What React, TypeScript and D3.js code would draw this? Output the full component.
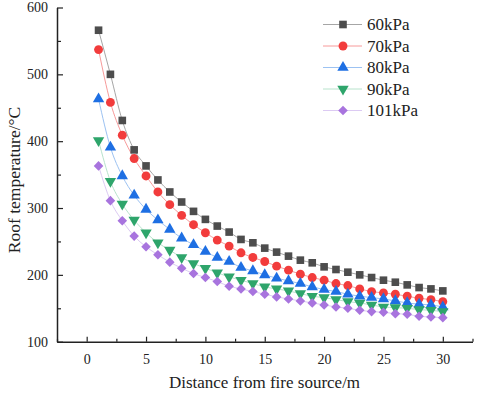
import React, { useEffect, useRef } from 'react';
import * as d3 from 'd3';

// distance from fire source (m)
const distances = d3.range(1, 31);

// roof temperature (°C)
const t60 = [566, 500, 431, 387, 363, 342, 324, 309, 295, 283, 273, 264, 253, 248, 240, 234, 228, 222, 218, 212, 208, 204, 200, 196, 192, 189, 185, 181, 179, 176];
const t70 = [537, 458, 409, 374, 348, 324, 305, 289, 275, 263, 252, 243, 233, 226, 220, 213, 207, 201, 196, 192, 187, 184, 179, 175, 173, 171, 168, 165, 163, 160];
const t80 = [463, 391, 348, 319, 298, 282, 268, 255, 245, 235, 226, 220, 211, 206, 200, 195, 191, 187, 182, 178, 175, 171, 168, 166, 164, 161, 158, 156, 155, 152];
const t90 = [401, 340, 306, 282, 263, 248, 237, 226, 217, 210, 203, 197, 192, 187, 182, 179, 176, 172, 168, 166, 163, 160, 158, 155, 152, 151, 150, 148, 147, 145];
const t101 = [363, 311, 281, 258, 242, 230, 219, 210, 202, 196, 190, 183, 179, 175, 171, 167, 164, 161, 158, 155, 152, 150, 147, 145, 144, 142, 141, 138, 137, 136];

const seriesNames = ['60kPa', '70kPa', '80kPa', '90kPa', '101kPa'];
const xTicks = [0, 5, 10, 15, 20, 25, 30];
const yTicks = [100, 200, 300, 400, 500, 600];

const App = () => {
  const svgRef = useRef<SVGSVGElement>(null);

  useEffect(() => {
    const svg = d3.select(svgRef.current);
    svg.selectAll('*').remove();

    const width = 480;
    const height = 393;
    const font = '"Liberation Serif", "Times New Roman", serif';

    const x = d3.scaleLinear().domain([-2.5, 32.5]).range([57, 472.5]);
    const y = d3.scaleLinear().domain([100, 600]).range([341.7, 7.5]);

    svg.append('rect').attr('width', width).attr('height', height).attr('fill', '#fff');

    const series = [
      { name: seriesNames[0], values: t60, color: '#4d4d4d', line: '#a6a6a6', symbol: d3.symbolSquare, size: 58, rotate: 0 },
      { name: seriesNames[1], values: t70, color: '#f23c3c', line: '#f79a9a', symbol: d3.symbolCircle, size: 62, rotate: 0 },
      { name: seriesNames[2], values: t80, color: '#1e6fe3', line: '#9cc2f2', symbol: d3.symbolTriangle, size: 56, rotate: 0 },
      { name: seriesNames[3], values: t90, color: '#2ea56b', line: '#b8e3cc', symbol: d3.symbolTriangle, size: 56, rotate: 180 },
      { name: seriesNames[4], values: t101, color: '#a874de', line: '#dccaf3', symbol: d3.symbolSquare, size: 46, rotate: 45 },
    ];

    const line = d3
      .line<number>()
      .x((d, i) => x(distances[i]))
      .y((d) => y(d))
      .curve(d3.curveMonotoneX);

    // lines first, then markers on top
    series.forEach((s) => {
      svg
        .append('path')
        .attr('d', line(s.values))
        .attr('fill', 'none')
        .attr('stroke', s.line)
        .attr('stroke-width', 1);
    });

    series.forEach((s) => {
      svg
        .append('g')
        .selectAll('path')
        .data(s.values)
        .enter()
        .append('path')
        .attr('d', d3.symbol().type(s.symbol).size(s.size)())
        .attr('transform', (d, i) => `translate(${x(distances[i])},${y(d)}) rotate(${s.rotate})`)
        .attr('fill', s.color);
    });

    // x axis (ticks pointing inward)
    const xAxis = svg.append('g').attr('transform', `translate(0,${y(100)})`);
    xAxis.call(d3.axisBottom(x).tickValues(xTicks).tickSizeInner(-5).tickSizeOuter(0).tickPadding(12));
    svg
      .append('g')
      .attr('transform', `translate(0,${y(100)})`)
      .call(d3.axisBottom(x).tickValues([-2.5, 2.5, 7.5, 12.5, 17.5, 22.5, 27.5, 32.5]).tickSize(-3).tickFormat(() => ''))
      .select('.domain')
      .remove();

    // y axis
    const yAxis = svg.append('g').attr('transform', `translate(${x(-2.5)},0)`);
    yAxis.call(d3.axisLeft(y).tickValues(yTicks).tickSizeInner(-6).tickSizeOuter(0).tickPadding(9));
    svg
      .append('g')
      .attr('transform', `translate(${x(-2.5)},0)`)
      .call(d3.axisLeft(y).tickValues([150, 250, 350, 450, 550]).tickSize(-4).tickFormat(() => ''))
      .select('.domain')
      .remove();

    svg.selectAll('.domain').attr('stroke', '#222').attr('stroke-width', 1.5);
    svg.selectAll('.tick line').attr('stroke', '#222').attr('stroke-width', 1.2);
    svg.selectAll('.tick text').attr('font-family', font).attr('font-size', 14).attr('fill', '#222');

    // axis titles
    svg
      .append('text')
      .attr('x', 264.5)
      .attr('y', 388)
      .attr('text-anchor', 'middle')
      .attr('font-family', font)
      .attr('font-size', 17)
      .attr('fill', '#222')
      .text('Distance from fire source/m');

    svg
      .append('text')
      .attr('transform', 'translate(20,180) rotate(-90)')
      .attr('text-anchor', 'middle')
      .attr('font-family', font)
      .attr('font-size', 17.5)
      .attr('fill', '#222')
      .text('Roof temperature/°C');

    // legend
    const legend = svg.append('g').attr('transform', 'translate(323,24.5)');
    series.forEach((s, i) => {
      const row = legend.append('g').attr('transform', `translate(0,${i * 21.5})`);
      row.append('line').attr('x1', 0).attr('x2', 39).attr('stroke', s.line).attr('stroke-width', 1);
      row
        .append('path')
        .attr('d', d3.symbol().type(s.symbol).size(s.size)())
        .attr('transform', `translate(20,0) rotate(${s.rotate})`)
        .attr('fill', s.color);
      row
        .append('text')
        .attr('x', 44)
        .attr('dy', '0.35em')
        .attr('font-family', font)
        .attr('font-size', 17)
        .attr('fill', '#222')
        .text(s.name);
    });
  }, []);

  return <svg ref={svgRef} width={480} height={393} style={{ position: 'absolute', left: 0, top: 0 }} />;
};

export default App;
